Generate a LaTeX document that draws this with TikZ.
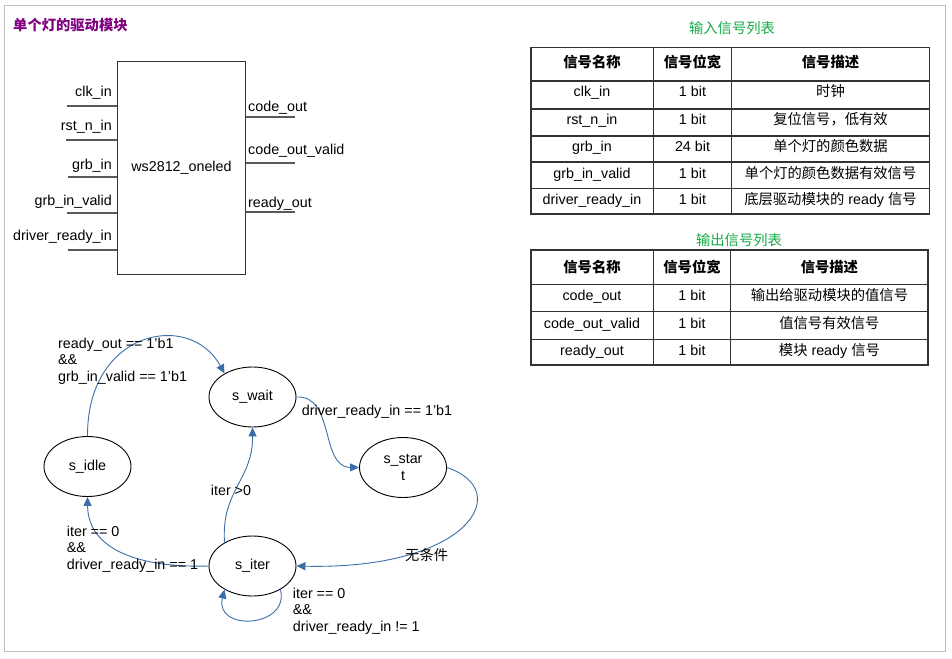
\documentclass[tikz,border=0pt]{standalone}
\usepackage{fontspec}
\setmainfont{Liberation Sans}
\newfontfamily\cjk{Noto Sans CJK SC}
\usepackage{tikz}
\usetikzlibrary{shapes,arrows,positioning}
\usetikzlibrary{arrows.meta}
\definecolor{edgeblue}{RGB}{58,110,168}
\definecolor{titlepurple}{RGB}{128,0,128}
\definecolor{titlegreen}{RGB}{20,170,70}
\tikzset{
	state/.style={ellipse, draw, line width=0.9pt, minimum width=87pt, minimum height=60pt, inner sep=0pt, align=center},
	trans/.style={draw=edgeblue, line width=0.9pt, -{Triangle[length=9pt,width=8pt]}, fill=none},
	cond/.style={anchor=west, align=left, inner sep=0pt},
	pinline/.style={line width=1.8pt, draw=black!65},
	pinlabel/.style={inner sep=0pt},
	grid line/.style={line width=1.3pt, draw=black!80},
	cell/.style={inner sep=0pt, text height=10pt, text depth=3pt},
}

\begin{document}
\begin{tikzpicture}[x=1pt, y=1pt, font=\fontsize{14.3pt}{16.5pt}\selectfont]
				\useasboundingbox (0,0) rectangle (952,-658);
				\draw [draw=black!25, line width=1.2pt] (4.5,-5.5) rectangle (945.7,-651.5);
				% module block
				\node [anchor=west, inner sep=0pt, text=titlepurple] (title) at (13,-25) {\cjk\bfseries 单个灯的驱动模块};
				\node [draw=black!80, line width=1.3pt, minimum width=127.5pt, minimum height=213pt] (mod) at (181.5,-167.7) {ws2812\_oneled};
				\coordinate (clk)  at (67,-106);
				\coordinate (rst)  at (66,-139.7);
				\coordinate (grb)  at (68,-177.3);
				\coordinate (grbv) at (67,-213.3);
				\coordinate (drdy) at (68,-250);
				\coordinate (cout)  at (295,-117.3);
				\coordinate (coutv) at (295,-162.7);
				\coordinate (rdy)   at (295,-212.3);
				\foreach \p in {clk,rst,grb,grbv,drdy}
					\draw [pinline] (\p) -- (\p -| mod.west);
				\foreach \p in {cout,coutv,rdy}
					\draw [pinline] (\p -| mod.east) -- (\p);
				\node [pinlabel, anchor=east] (clk label)  at (112,-93)    {clk\_in};
				\node [pinlabel, anchor=east] (rst label)  at (112,-127)   {rst\_n\_in};
				\node [pinlabel, anchor=east] (grb label)  at (112,-165.6) {grb\_in};
				\node [pinlabel, anchor=east] (grbv label) at (112,-202)   {grb\_in\_valid};
				\node [pinlabel, anchor=east] (drdy label) at (112,-236.7) {driver\_ready\_in};
				\node [pinlabel, anchor=west] (cout label)  at (248,-107.3) {code\_out};
				\node [pinlabel, anchor=west] (coutv label) at (248,-150.7) {code\_out\_valid};
				\node [pinlabel, anchor=west] (rdy label)   at (248,-204)   {ready\_out};
				% input table
				\node [text=titlegreen, inner sep=0pt] (in title) at (732,-28.3) {\cjk 输入信号列表};
				\draw [grid line] (531,-47.7) rectangle (929.3,-214);
				\foreach \y in {81,109,136,162,188.3}
					\draw [grid line] (531,-\y) -- (929.3,-\y);
				\foreach \x in {653.3,731.7}
					\draw [grid line] (\x,-47.7) -- (\x,-214);
				\node [cell] (in h1) at (592,-64.5)   {\cjk\bfseries 信号名称};
				\node [cell] (in h2) at (692.5,-64.5) {\cjk\bfseries 信号位宽};
				\node [cell] (in h3) at (830.5,-64.5) {\cjk\bfseries 信号描述};
				\node [cell] (in a1) at (592,-93)   {clk\_in};
				\node [cell] (in a2) at (692.5,-93) {1 bit};
				\node [cell] (in a3) at (830.5,-93) {\cjk 时钟};
				\node [cell] (in b1) at (592,-121)   {rst\_n\_in};
				\node [cell] (in b2) at (692.5,-121) {1 bit};
				\node [cell] (in b3) at (830.5,-121) {\cjk 复位信号，低有效};
				\node [cell] (in c1) at (592,-148)   {grb\_in};
				\node [cell] (in c2) at (692.5,-148) {24 bit};
				\node [cell] (in c3) at (830.5,-148) {\cjk 单个灯的颜色数据};
				\node [cell] (in d1) at (592,-174.5)   {grb\_in\_valid};
				\node [cell] (in d2) at (692.5,-174.5) {1 bit};
				\node [cell] (in d3) at (830.5,-174.5) {\cjk 单个灯的颜色数据有效信号};
				\node [cell] (in e1) at (592,-201)   {driver\_ready\_in};
				\node [cell] (in e2) at (692.5,-201) {1 bit};
				\node [cell] (in e3) at (830.5,-201) {{\cjk 底层驱动模块的} ready {\cjk 信号}};
				% output table
				\node [text=titlegreen, inner sep=0pt] (out title) at (739,-240) {\cjk 输出信号列表};
				\draw [grid line] (531,-250) rectangle (928,-365);
				\foreach \y in {284.3,311.7,339.3}
					\draw [grid line] (531,-\y) -- (928,-\y);
				\foreach \x in {653.3,730.7}
					\draw [grid line] (\x,-250) -- (\x,-365);
				\node [cell] (out h1) at (592,-268.5)   {\cjk\bfseries 信号名称};
				\node [cell] (out h2) at (692,-268.5)   {\cjk\bfseries 信号位宽};
				\node [cell] (out h3) at (829.4,-268.5) {\cjk\bfseries 信号描述};
				\node [cell] (out a1) at (592,-297)   {code\_out};
				\node [cell] (out a2) at (692,-297)   {1 bit};
				\node [cell] (out a3) at (829.4,-297) {\cjk 输出给驱动模块的值信号};
				\node [cell] (out b1) at (592,-324.5)   {code\_out\_valid};
				\node [cell] (out b2) at (692,-324.5)   {1 bit};
				\node [cell] (out b3) at (829.4,-324.5) {\cjk 值信号有效信号};
				\node [cell] (out c1) at (592,-352)   {ready\_out};
				\node [cell] (out c2) at (692,-352)   {1 bit};
				\node [cell] (out c3) at (829.4,-352) {{\cjk 模块} ready {\cjk 信号}};
				% state machine
				\node [state] (s_idle)  at (87.5,-466.5) {s\_idle};
				\node [state] (s_wait)  at (252.5,-397)  {s\_wait};
				\node [state] (s_start) at (403,-467.5)  {s\_star\\t};
				\node [state] (s_iter)  at (252.5,-566)  {s\_iter};
				\draw [trans] (s_idle.north) .. controls (87,-330) and (190,-310) .. (s_wait.140);
				\draw [trans] (s_wait.east) .. controls (335,-395) and (320,-467) .. (s_start.west);
				\draw [trans] (s_start.east) .. controls (515,-490) and (470,-570) .. (s_iter.east);
				\draw [trans] (s_iter.140) .. controls (221,-490) and (253,-480) .. (s_wait.south);
				\draw [trans] (s_iter.west) .. controls (140,-568) and (88,-550) .. (s_idle.south);
				\draw [trans] (s_iter.-40) .. controls (290,-628) and (214,-632) .. (s_iter.-140);
				\node [cond] (c idle wait)  at (58,-361)    {ready\_out == 1’b1\\\&\&\\grb\_in\_valid == 1’b1};
				\node [cond] (c wait start) at (301.7,-411.7) {driver\_ready\_in == 1’b1};
				\node [cond] (c start iter) at (405,-555)   {\cjk 无条件};
				\node [cond] (c iter wait)  at (210.7,-490) {iter >0};
				\node [cond] (c iter idle)  at (66.7,-549)  {iter == 0\\\&\&\\driver\_ready\_in == 1};
				\node [cond] (c iter iter)  at (292.7,-611) {iter == 0\\\&\&\\driver\_ready\_in != 1};
				\end{tikzpicture}
\end{document}
